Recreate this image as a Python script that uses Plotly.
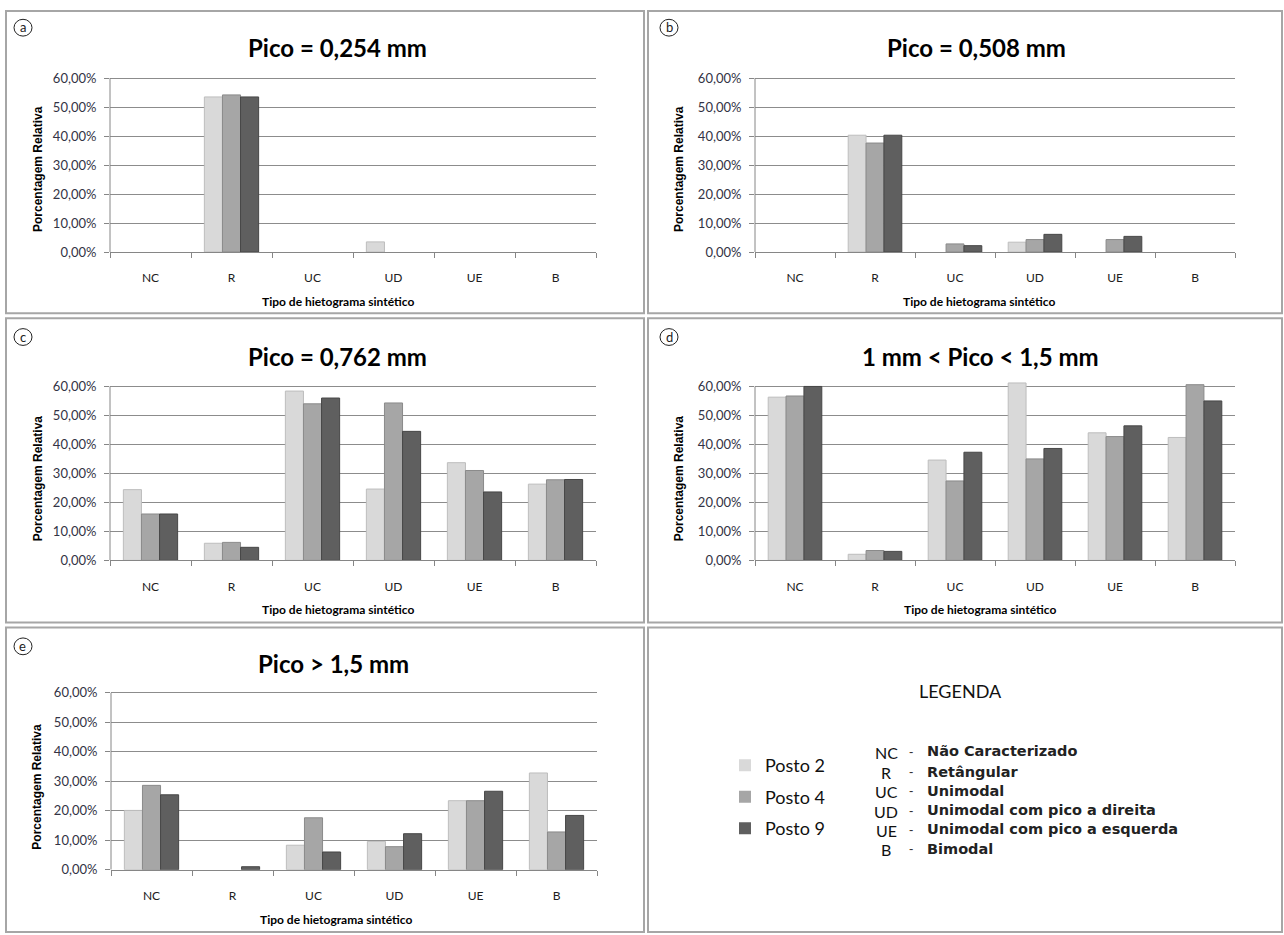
import plotly.graph_objects as go

W, H = 1284, 935

# Tipos de hietograma sintético (eixo x) e postos pluviométricos
categorias = ["NC", "R", "UC", "UD", "UE", "B"]
postos = ["Posto 2", "Posto 4", "Posto 9"]
cores = ["#d9d9d9", "#a6a6a6", "#5f5f5f"]
bordas = ["#bdbdbd", "#8a8a8a", "#474747"]

# Porcentagem relativa (%) - Pico = 0,254 mm
pico_0254_posto2 = [0, 53.5, 0, 3.5, 0, 0]
pico_0254_posto4 = [0, 54.2, 0, 0, 0, 0]
pico_0254_posto9 = [0, 53.5, 0, 0, 0, 0]

# Pico = 0,508 mm
pico_0508_posto2 = [0, 40.3, 0, 3.4, 0, 0]
pico_0508_posto4 = [0, 37.6, 2.8, 4.3, 4.3, 0]
pico_0508_posto9 = [0, 40.3, 2.2, 6.1, 5.4, 0]

# Pico = 0,762 mm
pico_0762_posto2 = [24.4, 5.9, 58.4, 24.6, 33.7, 26.3]
pico_0762_posto4 = [16.0, 6.2, 54.0, 54.3, 31.0, 27.8]
pico_0762_posto9 = [16.0, 4.5, 56.0, 44.5, 23.6, 27.9]

# 1 mm < Pico < 1,5 mm
pico_1a15_posto2 = [56.3, 2.1, 34.6, 61.2, 44.0, 42.4]
pico_1a15_posto4 = [56.7, 3.4, 27.4, 35.0, 42.7, 60.6]
pico_1a15_posto9 = [60.0, 3.1, 37.3, 38.6, 46.4, 55.0]

# Pico > 1,5 mm
pico_15_posto2 = [20.1, 0, 8.3, 9.6, 23.4, 32.8]
pico_15_posto4 = [28.6, 0, 17.6, 7.8, 23.4, 12.8]
pico_15_posto9 = [25.4, 1.0, 6.0, 12.2, 26.6, 18.4]

y_ticks = [0, 10, 20, 30, 40, 50, 60]
y_ticktext = ["0,00%", "10,00%", "20,00%", "30,00%", "40,00%", "50,00%", "60,00%"]

titulos = ["Pico = 0,254 mm", "Pico = 0,508 mm", "Pico = 0,762 mm",
           "1 mm < Pico < 1,5 mm", "Pico > 1,5 mm"]
letras = ["a", "b", "c", "d", "e"]
series = [
    [pico_0254_posto2, pico_0254_posto4, pico_0254_posto9],
    [pico_0508_posto2, pico_0508_posto4, pico_0508_posto9],
    [pico_0762_posto2, pico_0762_posto4, pico_0762_posto9],
    [pico_1a15_posto2, pico_1a15_posto4, pico_1a15_posto9],
    [pico_15_posto2, pico_15_posto4, pico_15_posto9],
]

Y_MAX = 62


def fx(px):
    return px / W


def fy(py):
    return 1 - py / H


# layout of each panel in pixels
paineis = [
    dict(box=(6, 8, 644, 314), plot_x=(110, 596), zero=252, top60=76,
         title=(337, 45), xt=(338, 302), yt=(38, 168), circ=(23, 25)),
    dict(box=(648, 8, 1282, 314), plot_x=(755, 1235), zero=252, top60=76,
         title=(977, 45), xt=(979, 302), yt=(679, 168), circ=(669, 25)),
    dict(box=(6, 319, 644, 627), plot_x=(110, 596), zero=564, top60=388,
         title=(337, 358), xt=(338, 614), yt=(38, 481), circ=(23, 338)),
    dict(box=(648, 319, 1282, 627), plot_x=(755, 1235), zero=564, top60=388,
         title=(980, 358), xt=(980, 614), yt=(679, 481), circ=(669, 338)),
    dict(box=(6, 632, 644, 940), plot_x=(111, 597), zero=877, top60=698,
         title=(334, 668), xt=(336, 927), yt=(37, 793), circ=(23, 651)),
]

fig = go.Figure()
shapes = []
annotations = []
label_font = "Lato, 'Open Sans', sans-serif"

for i, (p, dados) in enumerate(zip(paineis, series)):
    n = "" if i == 0 else str(i + 1)
    xa, ya = "x" + n, "y" + n
    for j in range(3):
        # no outline on empty categories so nothing is drawn there
        larguras = [1 if v > 0 else 0 for v in dados[j]]
        fig.add_trace(go.Bar(
            x=categorias, y=dados[j], name=postos[j],
            marker=dict(color=cores[j], line=dict(color=bordas[j], width=larguras)),
            xaxis=xa, yaxis=ya, showlegend=(i == 0), legendgroup=postos[j],
            hoverinfo="x+y+name",
        ))
    unit = (p["zero"] - p["top60"]) / 60.0
    top_px = p["zero"] - Y_MAX * unit
    fig.layout["xaxis" + n] = dict(
        domain=[fx(p["plot_x"][0]), fx(p["plot_x"][1])], anchor=ya,
        type="category", tickson="boundaries", ticks="outside", ticklen=5,
        tickcolor="#868686", showline=True, linecolor="#868686", linewidth=1,
        showgrid=False, tickfont=dict(family=label_font, size=12, color="#202020"),
        ticklabelstandoff=15, fixedrange=True,
    )
    fig.layout["yaxis" + n] = dict(
        domain=[fy(p["zero"]), fy(top_px)], anchor=xa, range=[0, Y_MAX],
        tickvals=y_ticks, ticktext=y_ticktext, ticks="outside", ticklen=5,
        tickcolor="#868686", showline=False, showgrid=True, gridcolor="#8c8c8c",
        gridwidth=1, zeroline=False,
        tickfont=dict(family=label_font, size=13, color="#333345"),
        ticklabelstandoff=5, fixedrange=True,
    )
    # vertical axis line from 0 % to 60 %
    shapes.append(dict(type="line", xref=xa + " domain", yref=ya,
                       x0=0, x1=0, y0=0, y1=60,
                       line=dict(color="#868686", width=1)))
    # panel frame
    x0, y0, x1, y1 = p["box"]
    shapes.append(dict(type="rect", xref="paper", yref="paper",
                       x0=fx(x0), x1=fx(x1), y0=fy(y0), y1=fy(y1),
                       line=dict(color="#a6a6a6", width=2), layer="below"))
    # circled panel letter
    cx, cy = p["circ"]
    shapes.append(dict(type="circle", xref="paper", yref="paper",
                       x0=fx(cx - 9), x1=fx(cx + 9), y0=fy(cy - 8.5), y1=fy(cy + 8.5),
                       line=dict(color="#222222", width=1)))
    annotations.append(dict(text=letras[i], x=fx(cx), y=fy(cy - 0.5), xref="paper",
                            yref="paper", showarrow=False, xanchor="center",
                            yanchor="middle",
                            font=dict(family=label_font, size=13, color="#222222")))
    annotations.append(dict(text="<b>" + titulos[i] + "</b>", x=fx(p["title"][0]),
                            y=fy(p["title"][1]), xref="paper", yref="paper",
                            showarrow=False, xanchor="center", yanchor="middle",
                            font=dict(family=label_font, size=24, color="#000000")))
    annotations.append(dict(text="<b>Tipo de hietograma sintético</b>",
                            x=fx(p["xt"][0]), y=fy(p["xt"][1]), xref="paper",
                            yref="paper", showarrow=False, xanchor="center",
                            yanchor="middle",
                            font=dict(family=label_font, size=12, color="#000000")))
    annotations.append(dict(text="<b>Porcentagem Relativa</b>",
                            x=fx(p["yt"][0]), y=fy(p["yt"][1]), xref="paper",
                            yref="paper", showarrow=False, xanchor="center",
                            yanchor="middle", textangle=-90,
                            font=dict(family="'Liberation Sans', Arial, sans-serif",
                                      size=12, color="#000000")))

# legend panel frame
shapes.append(dict(type="rect", xref="paper", yref="paper",
                   x0=fx(648), x1=fx(1282), y0=fy(632), y1=fy(940),
                   line=dict(color="#a6a6a6", width=2), layer="below"))

annotations.append(dict(text="LEGENDA", x=fx(960), y=fy(696), xref="paper",
                        yref="paper", showarrow=False, xanchor="center",
                        yanchor="middle",
                        font=dict(family=label_font, size=18, color="#111111")))

siglas = ["NC", "R", "UC", "UD", "UE", "B"]
descricoes = ["Não Caracterizado", "Retângular", "Unimodal",
              "Unimodal com pico a direita", "Unimodal com pico a esquerda", "Bimodal"]
linhas_y = [757, 778, 797, 817, 836, 856]
for s, d, ly in zip(siglas, descricoes, linhas_y):
    annotations.append(dict(text=s, x=fx(886), y=fy(ly + 1), xref="paper", yref="paper",
                            showarrow=False, xanchor="center", yanchor="middle",
                            font=dict(family=label_font, size=16, color="#111111")))
    annotations.append(dict(text="-", x=fx(911), y=fy(ly), xref="paper", yref="paper",
                            showarrow=False, xanchor="center", yanchor="middle",
                            font=dict(family="'Liberation Sans', Arial", size=13,
                                      color="#333333")))
    annotations.append(dict(text="<b>" + d + "</b>", x=fx(925), y=fy(ly), xref="paper",
                            yref="paper", showarrow=False, xanchor="left",
                            yanchor="middle",
                            font=dict(family="'DejaVu Sans', sans-serif", size=14.5,
                                      color="#222222")))

fig.update_layout(
    width=W, height=H,
    margin=dict(l=0, r=0, t=0, b=0),
    paper_bgcolor="white", plot_bgcolor="white",
    barmode="group", bargap=0.33, bargroupgap=0.0,
    shapes=shapes, annotations=annotations,
    legend=dict(x=fx(725), y=fy(753), xanchor="left", yanchor="top",
                font=dict(family=label_font, size=18, color="#111111"),
                tracegroupgap=5, bgcolor="rgba(0,0,0,0)", itemclick=False,
                itemdoubleclick=False, itemwidth=30),
    showlegend=True,
)

fig.write_html("out.html")
